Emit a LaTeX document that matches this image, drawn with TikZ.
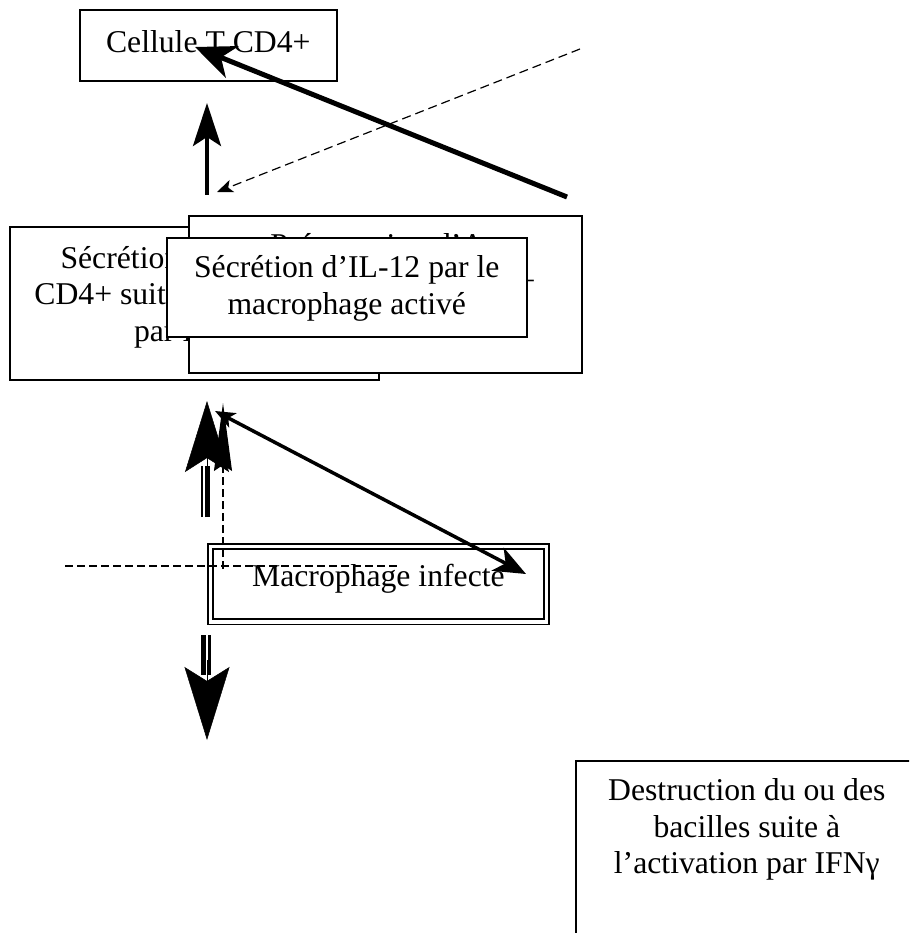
\documentclass[tikz,border=0pt]{standalone}
\usepackage{fontspec}
\setmainfont{Liberation Serif}
\usepackage{tikz}
\usetikzlibrary{arrows.meta}

% box with text set from the top
\newcommand{\boxtxt}[4]{\begin{minipage}[c][#2][t]{#1}\centering\vspace*{#3}\strut #4\end{minipage}}

\tikzset{
    txtbox/.style={draw, fill=white, line width=1.6pt, inner sep=0pt, anchor=north west},
    dashline/.style={line width=1.2pt, dash pattern=on 9pt off 5pt},
}

\begin{document}
\begin{tikzpicture}[x=1pt,y=-1pt,font=\fontsize{31.7}{36.5}\selectfont]
            \useasboundingbox (0,0) rectangle (909,933);
            \clip (0,0) rectangle (909,933);
            %boxes
            \node[txtbox] (secrifn) at (9,226)
                {\boxtxt{369pt}{153pt}{16pt}{Sécrétion d'IFNγ par\\CD4+ suite à l'activation\\par IL-12}};
            \node[txtbox] (present) at (188,215)
                {\boxtxt{393pt}{157pt}{14pt}{Présentation d'Ag\\au lymphocyte T CD4+\\par le macrophage}};
            \node[txtbox] (secril) at (166,237)
                {\boxtxt{360pt}{99pt}{14.5pt}{Sécrétion d'IL-12 par le\\macrophage activé}};
            \node[txtbox] (cd4) at (79,9)
                {\boxtxt{257pt}{71pt}{17.5pt}{Cellule T CD4+}};
            \node[txtbox, line width=1.8pt, double, double distance=3.5pt] (macinf) at (209.5,545.5)
                {\boxtxt{336pt}{75.5pt}{15pt}{Macrophage infecte}};
            \node[txtbox] (destr) at (575,760)
                {\boxtxt{342pt}{200pt}{14.5pt}{Destruction du ou des\\bacilles suite à\\l'activation par IFNγ}};

            %free ends
            \coordinate (cd4tip) at (195,47);
            \coordinate (cd4tail) at (567,197);
            \coordinate (dashtail) at (580,49);
            \coordinate (dashtip) at (217,192);
            \coordinate (uptail) at (207,195);
            \coordinate (uptip) at (207,103);
            \coordinate (diagtop) at (215,411);
            \coordinate (diagtip) at (526,574);
            \coordinate (vdashbot) at (223,569);
            \coordinate (vdashtop) at (223,403);
            \coordinate (hdashleft) at (65,566);
            \coordinate (hdashright) at (400,566);

            %towards the T cell
            \draw[line width=5pt, -{Stealth[length=40pt,width=34pt,inset=12pt]}] (cd4tail) -- (cd4tip);
            \draw[dashline, -{Stealth[length=16pt,width=13pt,inset=4pt]}] (dashtail) -- (dashtip);
            \draw[line width=4pt, -{Stealth[length=43pt,width=28pt,inset=9pt]}] (uptail) -- (uptip);

            %double arrow up
            \draw[line width=2pt] (202,517) -- (202,466);
            \draw[line width=5pt] (207.5,517) -- (207.5,466);
            \draw[line width=0.5pt, -{Stealth[length=71pt,width=44pt,inset=14pt]}] (207,480) -- (207,401);

            %double arrow down
            \draw[line width=5pt] (203.5,635) -- (203.5,675);
            \draw[line width=2.5pt] (209.5,635) -- (209.5,675);
            \draw[line width=0.5pt, -{Stealth[length=73pt,width=45pt,inset=14pt]}] (207,660) -- (207,740);

            %dashed lines and the diagonal
            \draw[dashline, dash pattern=on 8pt off 4pt] (hdashleft) -- (hdashright);
            \draw[dashline, dash pattern=on 8pt off 4pt, -{Stealth[length=68pt,width=18pt,inset=6pt]}] (vdashbot) -- (vdashtop);
            \draw[line width=3.5pt, {Stealth[length=20pt,width=16pt,inset=5pt]}-{Stealth[length=32pt,width=26pt,inset=9pt]}] (diagtop) -- (diagtip);
        \end{tikzpicture}
\end{document}
